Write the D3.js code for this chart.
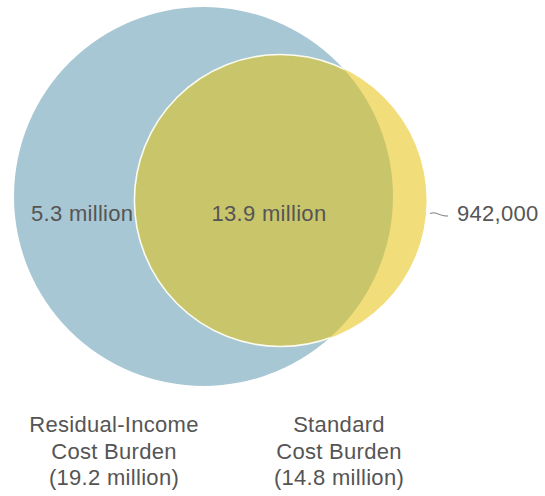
<!DOCTYPE html>
<html>
<head>
<meta charset="utf-8">
<script src="https://cdn.jsdelivr.net/npm/d3@7"></script>
<style>
  html, body { margin: 0; padding: 0; background: #fff; }
  text { font-family: "Liberation Sans", Arial, Helvetica, sans-serif; fill: #555; letter-spacing: 0.3px; }
</style>
</head>
<body>
<svg id="chart" width="545" height="496"></svg>
<script>
// ---- data ----
const setNames = ["Residual-Income", "Standard"];
const setTotals = [19.2, 14.8];           // millions
const setTotalLabels = ["(19.2 million)", "(14.8 million)"];
const regionValues = [5.3, 13.9, 0.942];  // only A, both, only B (millions)
const regionLabels = ["5.3 million", "13.9 million", "942,000"];

// ---- layout ----
const W = 545, H = 496;
const svg = d3.select("#chart");
const rScale = d3.scaleLinear().domain([0, 19.2]).range([0, 189.5]);
const cA = { x: 203.5, y: 196.5 };
const cB = { x: 280.5, y: 200.5 };
const colors = { a: "#a8c7d4", b: "#f2dd7b", ab: "#c9c56b" };

const rA = rScale(setTotals[0]);
const rB = rScale(setTotals[1]);

const defs = svg.append("defs");
defs.append("clipPath").attr("id", "clipA")
  .append("circle").attr("cx", cA.x).attr("cy", cA.y).attr("r", rA);

// set A circle
svg.append("circle").attr("cx", cA.x).attr("cy", cA.y).attr("r", rA)
  .attr("fill", colors.a);
// set B circle
svg.append("circle").attr("cx", cB.x).attr("cy", cB.y).attr("r", rB)
  .attr("fill", colors.b);
// overlap
svg.append("circle").attr("cx", cB.x).attr("cy", cB.y).attr("r", rB)
  .attr("clip-path", "url(#clipA)")
  .attr("fill", colors.ab)
  .attr("stroke", "#fbfbf0").attr("stroke-width", 1.6);

// region labels
const fs = 22;
svg.append("text").attr("x", 31).attr("y", 221)
  .attr("font-size", fs).text(regionLabels[0]);
svg.append("text").attr("x", 269).attr("y", 221).attr("text-anchor", "middle")
  .attr("font-size", fs).text(regionLabels[1]);
svg.append("text").attr("x", 457).attr("y", 221)
  .attr("font-size", fs).text(regionLabels[2]);
// leader
svg.append("path")
  .attr("d", "M430,213.5 C436,211 440,216.5 448,216")
  .attr("fill", "none").attr("stroke", "#777").attr("stroke-width", 1);

// set labels
const labelCx = [114, 339];
setNames.forEach((name, i) => {
  const lines = [name, "Cost Burden", setTotalLabels[i]];
  lines.forEach((ln, j) => {
    svg.append("text")
      .attr("x", labelCx[i]).attr("y", 432 + j * 26.5)
      .attr("text-anchor", "middle").attr("font-size", fs)
      .text(ln);
  });
});
</script>
</body>
</html>
